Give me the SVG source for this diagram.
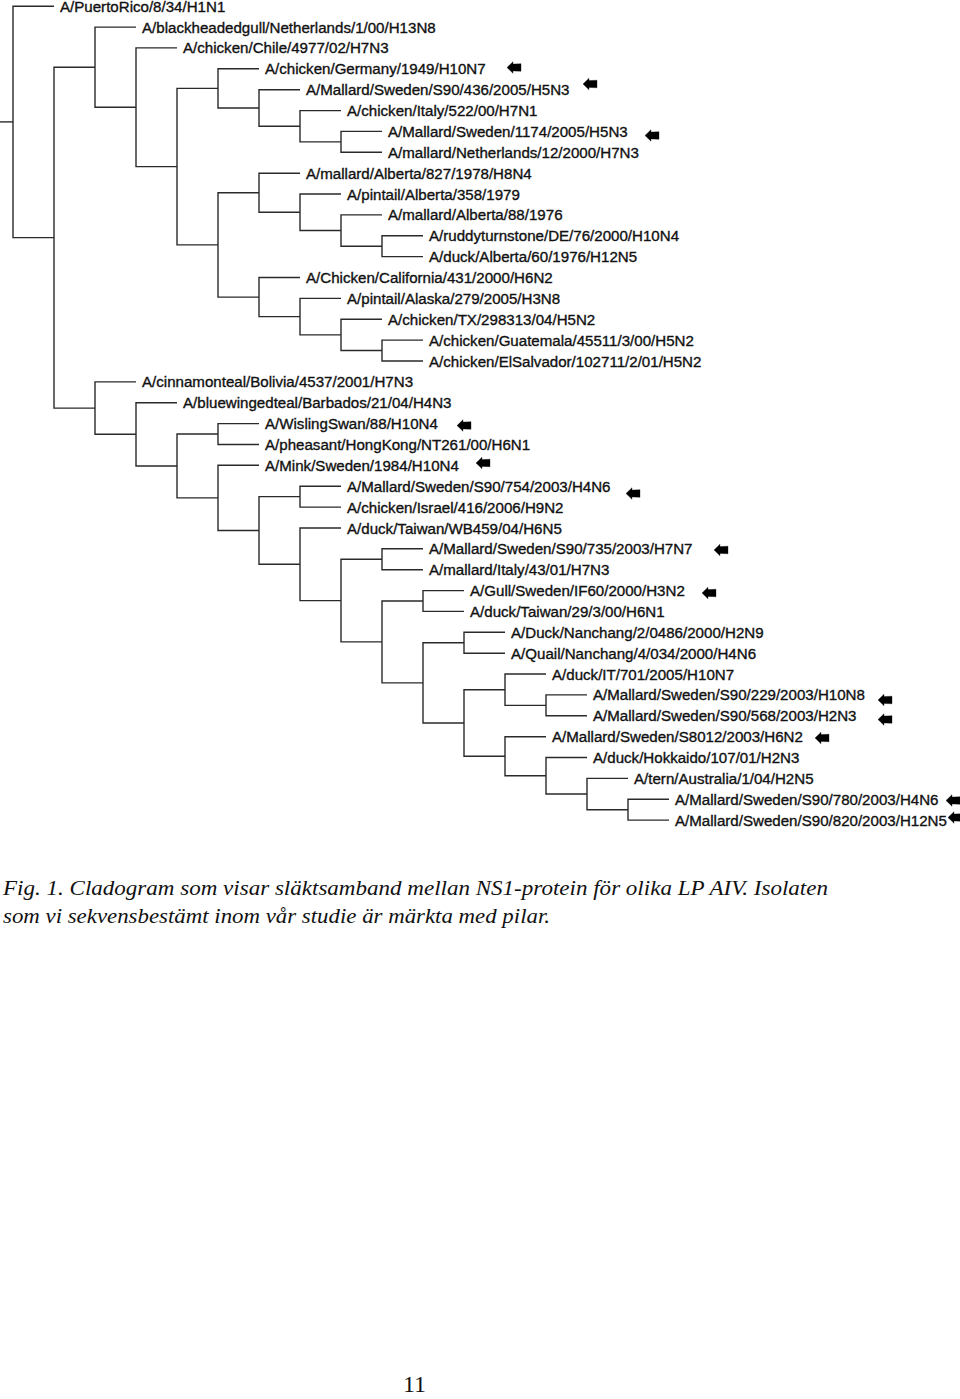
<svg xmlns="http://www.w3.org/2000/svg" xmlns:xlink="http://www.w3.org/1999/xlink" width="960" height="1399" viewBox="0 0 960 1399">
<style>
.lbl{font-family:"Liberation Sans",Arial,sans-serif;font-size:15.1px;fill:#111;stroke:#111;stroke-width:0.35;}
.cap{font-family:"Liberation Serif","Times New Roman",serif;font-style:italic;font-size:21px;fill:#111;}
.pg{font-family:"Liberation Serif","Times New Roman",serif;font-size:24px;fill:#111;}
.br{fill:none;stroke:#2a2a2a;stroke-width:1.4;}
</style>
<defs>
<path id="arr" d="M0,0 L6,-5.8 L6,-3.4 L14,-3.8 L14,3.8 L6,3.4 L6,5.8 Z" fill="#000"/>
</defs>
<rect width="960" height="1399" fill="#fff"/>
<g id="connectors" class="br">
<path d="M0,121.9 H13"/>
<path d="M54,6.2 H13 V237.65 H54"/>
<path d="M95,67.2 H54 V408.1 H95"/>
<path d="M136,27.1 H95 V107.3 H136"/>
<path d="M177,47.9 H136 V166.65 H177"/>
<path d="M218,88.4 H177 V244.9 H218"/>
<path d="M259,68.8 H218 V107.95 H259"/>
<path d="M300,89.7 H259 V126.2 H300"/>
<path d="M341,110.6 H300 V141.85 H341"/>
<path d="M382,131.4 H341 V152.3 H382"/>
<path d="M259,192.75 H218 V297.1 H259"/>
<path d="M300,173.2 H259 V212.3 H300"/>
<path d="M341,194.0 H300 V230.55 H341"/>
<path d="M382,214.9 H341 V246.2 H382"/>
<path d="M423,235.8 H382 V256.6 H423"/>
<path d="M300,277.5 H259 V316.65 H300"/>
<path d="M341,298.4 H300 V334.9 H341"/>
<path d="M382,319.3 H341 V350.55 H382"/>
<path d="M423,340.1 H382 V361.0 H423"/>
<path d="M136,381.9 H95 V434.3 H136"/>
<path d="M177,402.7 H136 V465.95 H177"/>
<path d="M218,434.05 H177 V497.9 H218"/>
<path d="M259,423.6 H218 V444.5 H259"/>
<path d="M259,465.3 H218 V530.5 H259"/>
<path d="M300,496.65 H259 V564.3 H300"/>
<path d="M341,486.2 H300 V507.1 H341"/>
<path d="M341,528.0 H300 V600.6 H341"/>
<path d="M382,559.25 H341 V641.9 H382"/>
<path d="M423,548.8 H382 V569.7 H423"/>
<path d="M423,601.0 H382 V682.85 H423"/>
<path d="M464,590.6 H423 V611.4 H464"/>
<path d="M464,642.75 H423 V722.95 H464"/>
<path d="M505,632.3 H464 V653.2 H505"/>
<path d="M505,689.7 H464 V756.25 H505"/>
<path d="M546,674.0 H505 V705.35 H546"/>
<path d="M587,694.9 H546 V715.8 H587"/>
<path d="M546,736.7 H505 V775.8 H546"/>
<path d="M587,757.5 H546 V794.05 H587"/>
<path d="M628,778.4 H587 V809.7 H628"/>
<path d="M669,799.3 H628 V820.1 H669"/>
</g>
<g id="leaves" class="lbl">
<g id="n0"><text x="60" y="11.7">A/PuertoRico/8/34/H1N1</text></g>
<g id="n1"><text x="142" y="32.6">A/blackheadedgull/Netherlands/1/00/H13N8</text></g>
<g id="n2"><text x="183" y="53.4">A/chicken/Chile/4977/02/H7N3</text></g>
<g id="n3"><text x="265" y="74.3">A/chicken/Germany/1949/H10N7</text><use href="#arr" x="507" y="67.5"/></g>
<g id="n4"><text x="306" y="95.2">A/Mallard/Sweden/S90/436/2005/H5N3</text><use href="#arr" x="583" y="84"/></g>
<g id="n5"><text x="347" y="116.1">A/chicken/Italy/522/00/H7N1</text></g>
<g id="n6"><text x="388" y="136.9">A/Mallard/Sweden/1174/2005/H5N3</text><use href="#arr" x="645" y="135.5"/></g>
<g id="n7"><text x="388" y="157.8">A/mallard/Netherlands/12/2000/H7N3</text></g>
<g id="n8"><text x="306" y="178.7">A/mallard/Alberta/827/1978/H8N4</text></g>
<g id="n9"><text x="347" y="199.5">A/pintail/Alberta/358/1979</text></g>
<g id="n10"><text x="388" y="220.4">A/mallard/Alberta/88/1976</text></g>
<g id="n11"><text x="429" y="241.3">A/ruddyturnstone/DE/76/2000/H10N4</text></g>
<g id="n12"><text x="429" y="262.1">A/duck/Alberta/60/1976/H12N5</text></g>
<g id="n13"><text x="306" y="283.0">A/Chicken/California/431/2000/H6N2</text></g>
<g id="n14"><text x="347" y="303.9">A/pintail/Alaska/279/2005/H3N8</text></g>
<g id="n15"><text x="388" y="324.8">A/chicken/TX/298313/04/H5N2</text></g>
<g id="n16"><text x="429" y="345.6">A/chicken/Guatemala/45511/3/00/H5N2</text></g>
<g id="n17"><text x="429" y="366.5">A/chicken/ElSalvador/102711/2/01/H5N2</text></g>
<g id="n18"><text x="142" y="387.4">A/cinnamonteal/Bolivia/4537/2001/H7N3</text></g>
<g id="n19"><text x="183" y="408.2">A/bluewingedteal/Barbados/21/04/H4N3</text></g>
<g id="n20"><text x="265" y="429.1">A/WislingSwan/88/H10N4</text><use href="#arr" x="457" y="425.5"/></g>
<g id="n21"><text x="265" y="450.0">A/pheasant/HongKong/NT261/00/H6N1</text></g>
<g id="n22"><text x="265" y="470.8">A/Mink/Sweden/1984/H10N4</text><use href="#arr" x="476" y="463"/></g>
<g id="n23"><text x="347" y="491.7">A/Mallard/Sweden/S90/754/2003/H4N6</text><use href="#arr" x="626" y="493.5"/></g>
<g id="n24"><text x="347" y="512.6">A/chicken/Israel/416/2006/H9N2</text></g>
<g id="n25"><text x="347" y="533.5">A/duck/Taiwan/WB459/04/H6N5</text></g>
<g id="n26"><text x="429" y="554.3">A/Mallard/Sweden/S90/735/2003/H7N7</text><use href="#arr" x="714" y="550"/></g>
<g id="n27"><text x="429" y="575.2">A/mallard/Italy/43/01/H7N3</text></g>
<g id="n28"><text x="470" y="596.1">A/Gull/Sweden/IF60/2000/H3N2</text><use href="#arr" x="702" y="593"/></g>
<g id="n29"><text x="470" y="616.9">A/duck/Taiwan/29/3/00/H6N1</text></g>
<g id="n30"><text x="511" y="637.8">A/Duck/Nanchang/2/0486/2000/H2N9</text></g>
<g id="n31"><text x="511" y="658.7">A/Quail/Nanchang/4/034/2000/H4N6</text></g>
<g id="n32"><text x="552" y="679.5">A/duck/IT/701/2005/H10N7</text></g>
<g id="n33"><text x="593" y="700.4">A/Mallard/Sweden/S90/229/2003/H10N8</text><use href="#arr" x="878" y="700"/></g>
<g id="n34"><text x="593" y="721.3">A/Mallard/Sweden/S90/568/2003/H2N3</text><use href="#arr" x="878" y="719.5"/></g>
<g id="n35"><text x="552" y="742.2">A/Mallard/Sweden/S8012/2003/H6N2</text><use href="#arr" x="815" y="738"/></g>
<g id="n36"><text x="593" y="763.0">A/duck/Hokkaido/107/01/H2N3</text></g>
<g id="n37"><text x="634" y="783.9">A/tern/Australia/1/04/H2N5</text></g>
<g id="n38"><text x="675" y="804.8">A/Mallard/Sweden/S90/780/2003/H4N6</text><use href="#arr" x="946" y="800.5"/></g>
<g id="n39"><text x="675" y="825.6">A/Mallard/Sweden/S90/820/2003/H12N5</text><use href="#arr" x="948" y="817.5"/></g>
</g>
<g id="caption">
<text class="cap" x="3" y="895" textLength="825" lengthAdjust="spacingAndGlyphs">Fig. 1. Cladogram som visar släktsamband mellan NS1-protein för olika LP AIV. Isolaten</text>
<text class="cap" x="3" y="923" textLength="547" lengthAdjust="spacingAndGlyphs">som vi sekvensbestämt inom vår studie är märkta med pilar.</text>
<text class="pg" x="403" y="1392">11</text>
</g>
</svg>
